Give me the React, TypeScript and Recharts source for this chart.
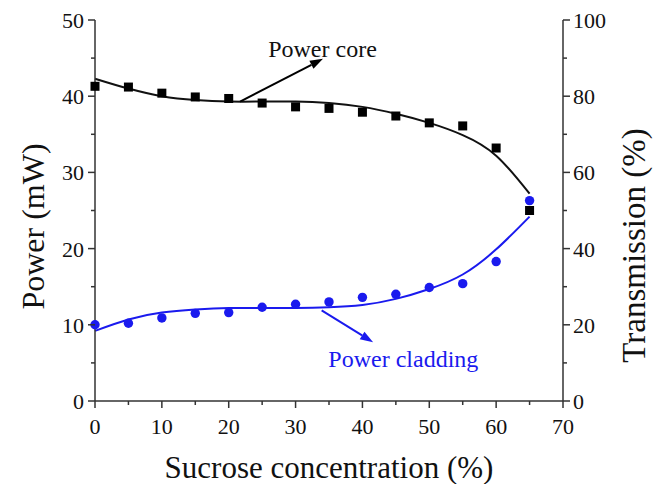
import {
  ComposedChart,
  Line,
  ReferenceDot,
  ReferenceLine,
  Scatter,
  XAxis,
  YAxis,
} from "recharts";

// sucrose concentration (%)
const concentration = [0, 5, 10, 15, 20, 25, 30, 35, 40, 45, 50, 55, 60, 65];

// measured power (mW)
const coreMeasured = [41.3, 41.2, 40.4, 39.9, 39.7, 39.1, 38.6, 38.4, 37.9, 37.4, 36.5, 36.1, 33.2, 25.0];
const claddingMeasured = [10.0, 10.2, 10.9, 11.5, 11.6, 12.3, 12.7, 13.0, 13.6, 14.0, 14.9, 15.4, 18.3, 26.3];

// fitted curves
const coreFit = [42.3, 41.0, 40.0, 39.5, 39.3, 39.3, 39.3, 39.1, 38.6, 37.7, 36.5, 34.9, 32.2, 27.2];
const claddingFit = [9.2, 10.7, 11.6, 12.0, 12.2, 12.2, 12.2, 12.3, 12.6, 13.4, 14.7, 16.6, 19.9, 24.2];

const xTicks = [0, 5, 10, 15, 20, 25, 30, 35, 40, 45, 50, 55, 60, 65, 70];
const powerTicks = [0, 5, 10, 15, 20, 25, 30, 35, 40, 45, 50];
const transmissionTicks = [0, 10, 20, 30, 40, 50, 60, 70, 80, 90, 100];

const FONT = "'Liberation Serif', 'Times New Roman', serif";
const AXIS = "#333";
const BLUE = "#1a1aee";

const toPoints = (ys: number[]) => concentration.map((x, i) => ({ x, y: ys[i] }));

const XTick = (p: any) => {
  const v = p.payload.value;
  const major = v % 10 === 0;
  return (
    <g>
      <line x1={p.x} x2={p.x} y1={p.y} y2={p.y + (major ? 7 : 4)} stroke={AXIS} strokeWidth={1.5} />
      {major && (
        <text x={p.x} y={p.y + 33} textAnchor="middle" fontSize={22} fontFamily={FONT} fill="#111">
          {v}
        </text>
      )}
    </g>
  );
};

const LeftTick = (p: any) => {
  const v = p.payload.value;
  const major = v % 10 === 0;
  return (
    <g>
      <line x1={p.x} x2={p.x - (major ? 7 : 4)} y1={p.y} y2={p.y} stroke={AXIS} strokeWidth={1.5} />
      {major && (
        <text x={p.x - 11} y={p.y + 8} textAnchor="end" fontSize={22} fontFamily={FONT} fill="#111">
          {v}
        </text>
      )}
    </g>
  );
};

const RightTick = (p: any) => {
  const v = p.payload.value;
  const major = v % 20 === 0;
  return (
    <g>
      <line x1={p.x} x2={p.x + (major ? 7 : 4)} y1={p.y} y2={p.y} stroke={AXIS} strokeWidth={1.5} />
      {major && (
        <text x={p.x + 10} y={p.y + 8} textAnchor="start" fontSize={22} fontFamily={FONT} fill="#111">
          {v}
        </text>
      )}
    </g>
  );
};

const arrow = (color: string) => (p: any) => {
  const { x1, y1, x2, y2 } = p;
  const a = Math.atan2(y2 - y1, x2 - x1);
  const len = 13;
  const w = 4.5;
  const bx = x2 - len * Math.cos(a);
  const by = y2 - len * Math.sin(a);
  const px = -Math.sin(a) * w;
  const py = Math.cos(a) * w;
  return (
    <g>
      <line x1={x1} y1={y1} x2={bx} y2={by} stroke={color} strokeWidth={2} />
      <polygon points={`${x2},${y2} ${bx + px},${by + py} ${bx - px},${by - py}`} fill={color} />
    </g>
  );
};

const note = (text: string, color: string) => (p: any) => (
  <text x={p.cx} y={p.cy} fontSize={24} fontFamily={FONT} fill={color}>
    {text}
  </text>
);

const rotatedTitle = (text: string, dx: number, dy: number, size: number) => (l: any) => {
  const cx = l.viewBox.x + dx;
  const cy = l.viewBox.y + l.viewBox.height / 2 + dy;
  return (
    <text
      x={cx}
      y={cy}
      transform={`rotate(-90 ${cx} ${cy})`}
      textAnchor="middle"
      dominantBaseline="central"
      fontSize={size}
      fontFamily={FONT}
      fill="#111"
    >
      {text}
    </text>
  );
};

export default function App() {
  return (
    <div style={{ position: "absolute", left: 0, top: 0, background: "#fff" }}>
      <ComposedChart width={658} height={484} margin={{ top: 20, right: 0, bottom: 0, left: 0 }}>
        <XAxis
          type="number"
          dataKey="x"
          domain={[0, 70]}
          ticks={xTicks}
          interval={0}
          height={83}
          tickSize={0}
          tickMargin={0}
          tickLine={false}
          tick={<XTick />}
          stroke={AXIS}
          strokeWidth={1.5}
          allowDuplicatedCategory={false}
          label={{
            content: (l: any) => (
              <text
                x={l.viewBox.x + l.viewBox.width / 2}
                y={l.viewBox.y + 77}
                textAnchor="middle"
                fontSize={31}
                fontFamily={FONT}
                fill="#111"
              >
                Sucrose concentration (%)
              </text>
            ),
          }}
        />
        <YAxis
          yAxisId="left"
          type="number"
          domain={[0, 50]}
          ticks={powerTicks}
          interval={0}
          width={95}
          tickSize={0}
          tickMargin={0}
          tickLine={false}
          tick={<LeftTick />}
          stroke={AXIS}
          strokeWidth={1.5}
          label={{ content: rotatedTitle("Power (mW)", 33, 16, 32) }}
        />
        <YAxis
          yAxisId="right"
          orientation="right"
          type="number"
          domain={[0, 100]}
          allowDataOverflow
          ticks={transmissionTicks}
          interval={0}
          width={95}
          tickSize={0}
          tickMargin={0}
          tickLine={false}
          tick={<RightTick />}
          stroke={AXIS}
          strokeWidth={1.5}
          label={{ content: rotatedTitle("Transmission (%)", 71, 35, 33) }}
        />

        {/* invisible series so the transmission axis gets its ticks */}
        <Scatter
          yAxisId="right"
          data={toPoints(claddingMeasured)}
          dataKey="y"
          isAnimationActive={false}
          shape={() => <g />}
        />

        <Line
          yAxisId="left"
          data={toPoints(coreFit)}
          dataKey="y"
          type="natural"
          stroke="#111"
          strokeWidth={2}
          dot={false}
          activeDot={false}
          isAnimationActive={false}
        />
        <Line
          yAxisId="left"
          data={toPoints(claddingFit)}
          dataKey="y"
          type="natural"
          stroke={BLUE}
          strokeWidth={2}
          dot={false}
          activeDot={false}
          isAnimationActive={false}
        />
        <Scatter
          yAxisId="left"
          data={toPoints(coreMeasured)}
          dataKey="y"
          isAnimationActive={false}
          shape={(p: any) => <rect x={p.cx - 4.5} y={p.cy - 4.5} width={9} height={9} fill="#000" />}
        />
        <Scatter
          yAxisId="left"
          data={toPoints(claddingMeasured)}
          dataKey="y"
          isAnimationActive={false}
          shape={(p: any) => <circle cx={p.cx} cy={p.cy} r={4.7} fill={BLUE} />}
        />

        <ReferenceLine
          yAxisId="left"
          segment={[
            { x: 21.7, y: 39.3 },
            { x: 34.1, y: 44.9 },
          ]}
          shape={arrow("#000")}
        />
        <ReferenceLine
          yAxisId="left"
          segment={[
            { x: 33.9, y: 11.9 },
            { x: 41.6, y: 7.7 },
          ]}
          shape={arrow(BLUE)}
        />
        <ReferenceDot yAxisId="left" x={25.9} y={45.1} r={0} shape={note("Power core", "#111")} />
        <ReferenceDot yAxisId="left" x={34.9} y={4.4} r={0} shape={note("Power cladding", BLUE)} />
      </ComposedChart>
    </div>
  );
}
